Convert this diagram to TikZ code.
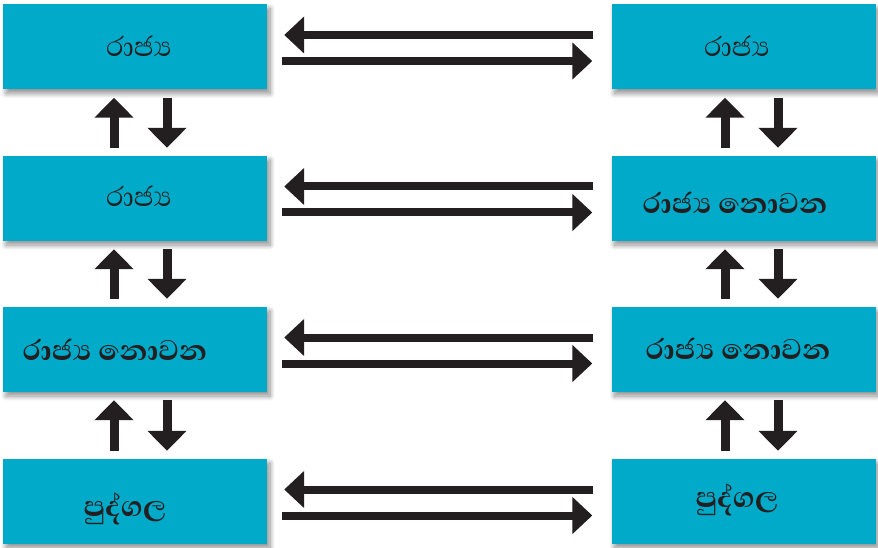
\documentclass[tikz,border=0pt]{standalone}
\usepackage{fontspec}
\newfontfamily\sinhala[Script=Sinhala]{Abhaya Libre}
\newfontfamily\sinhalabold[Script=Sinhala]{Abhaya Libre Bold}
\usetikzlibrary{arrows.meta,shadows.blur}
\definecolor{boxcyan}{RGB}{0,170,200}
\definecolor{ink}{RGB}{35,31,32}
\newcommand{\rajya}{ර^^^^0dcfජ^^^^0dca^^^^200dය}
\tikzset{
  box/.style={rectangle, fill=boxcyan, minimum width=264pt, minimum height=85pt, inner sep=0pt,
    blur shadow={shadow xshift=3pt, shadow yshift=-4pt, shadow blur radius=5pt, shadow blur steps=10, shadow opacity=45}},
  lite/.style={font=\sinhala\fontsize{35}{40}\selectfont, text=ink, inner sep=0pt},
  heavy/.style={font=\sinhalabold\fontsize{36.5}{42}\selectfont, text=ink, inner sep=0pt},
  harrow/.style={draw=ink, line width=8pt, -{Triangle[length=20pt,width=36pt]}},
  varrow/.style={draw=ink, line width=9pt, -{Triangle[length=20pt,width=38pt]}}
}
\begin{document}
\begin{tikzpicture}[x=1pt,y=-1pt]
\useasboundingbox (0,0) rectangle (878,548);
% boxes
\node[box] (L1) at (135,47) {};
\node[box] (L2) at (135,198.5) {};
\node[box] (L3) at (135,349.5) {};
\node[box] (L4) at (135,501.5) {};
\node[box] (R1) at (743.5,47) {};
\node[box] (R2) at (743.5,198.5) {};
\node[box] (R3) at (743.5,349.5) {};
\node[box] (R4) at (743.5,501.5) {};
% texts
\node[lite]  (L1t) at (139,46) {\rajya};
\node[lite]  (L2t) at (139,196) {\rajya};
\node[heavy] (L3t) at (115,350) {\rajya\ නොවන};
\node[heavy] (L4t) at (125,509) {පුද්ගල};
\node[lite]  (R1t) at (737,46) {\rajya};
\node[heavy] (R2t) at (735,203) {\rajya\ නොවන};
\node[heavy] (R3t) at (738,349) {\rajya\ නොවන};
\node[heavy] (R4t) at (737,500) {පුද්ගල};
% horizontal arrows
\foreach \r in {1,2,3,4}{
  \draw[harrow, shorten <=18pt, shorten >=17pt] ([yshift=12pt]R\r.west) -- ([yshift=12pt]L\r.east);
  \draw[harrow, shorten <=15pt, shorten >=19pt] ([yshift=-14pt]L\r.east) -- ([yshift=-14pt]R\r.west);
}
% vertical arrows
\foreach \a/\b in {1/2,2/3,3/4}{
  \draw[varrow, shorten <=8pt, shorten >=8pt] ([xshift=-21pt]L\b.north) -- ([xshift=-21pt]L\a.south);
  \draw[varrow, shorten <=8pt, shorten >=8pt] ([xshift=32pt]L\a.south) -- ([xshift=32pt]L\b.north);
  \draw[varrow, shorten <=8pt, shorten >=8pt] ([xshift=-18.5pt]R\b.north) -- ([xshift=-18.5pt]R\a.south);
  \draw[varrow, shorten <=8pt, shorten >=8pt] ([xshift=34.5pt]R\a.south) -- ([xshift=34.5pt]R\b.north);
}
\end{tikzpicture}
\end{document}
